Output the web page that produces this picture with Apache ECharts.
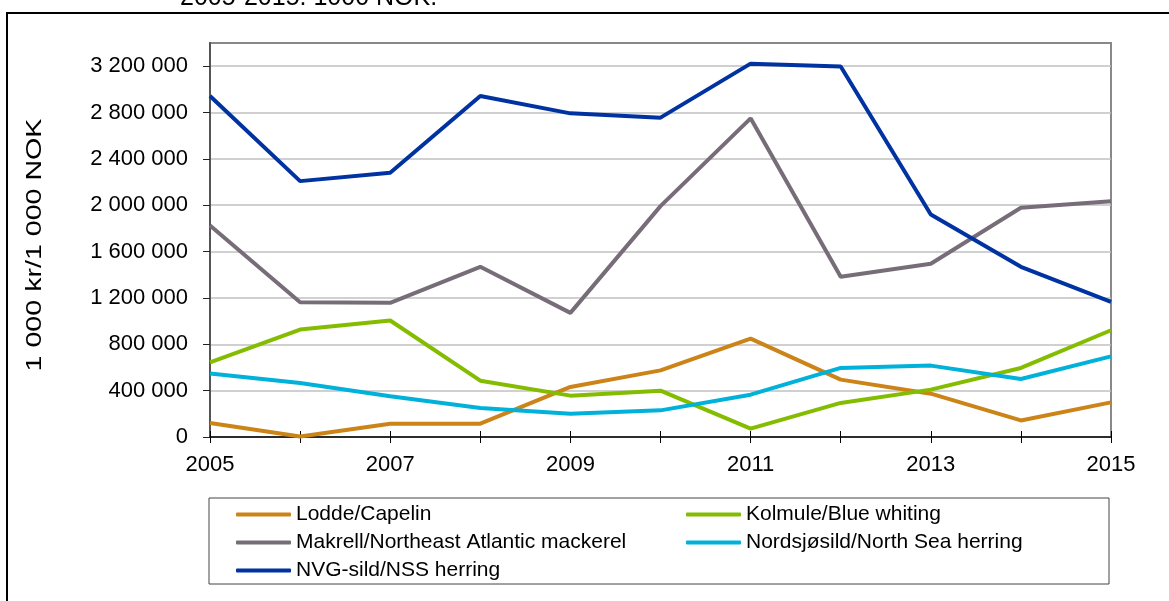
<!DOCTYPE html>
<html>
<head>
<meta charset="utf-8">
<script src="https://cdn.jsdelivr.net/npm/echarts@6/dist/echarts.min.js"></script>
<style>html,body{margin:0;padding:0;background:#fff}#c{width:1169px;height:601px}</style>
</head>
<body>
<div id="c"></div>
<script>
var years = ['2005','2006','2007','2008','2009','2010','2011','2012','2013','2014','2015'];
var lodde = [121000, 5000, 115000, 115000, 432000, 575000, 849000, 495000, 374000, 143000, 299000];
var kolmule = [645000, 927000, 1005000, 486000, 357000, 400000, 72000, 294000, 409000, 596000, 921000];
var makrell = [1825000, 1163000, 1158000, 1469000, 1071000, 1992000, 2750000, 1382000, 1495000, 1978000, 2035000];
var nordsjosild = [547000, 466000, 351000, 250000, 201000, 230000, 365000, 596000, 616000, 501000, 696000];
var nvg = [2943000, 2208000, 2281000, 2943000, 2793000, 2756000, 3222000, 3197000, 1920000, 1469000, 1166000];
var yTicks = [0, 400000, 800000, 1200000, 1600000, 2000000, 2400000, 2800000, 3200000];
var seriesNames = ['Lodde/Capelin', 'Kolmule/Blue whiting', 'Makrell/Northeast Atlantic mackerel', 'Nordsjøsild/North Sea herring', 'NVG-sild/NSS herring'];
var seriesColors = ['#CC8418', '#84BD00', '#776D78', '#00B1D9', '#0033A1'];
var seriesData = [lodde, kolmule, makrell, nordsjosild, nvg];
var yTitle = '1 000 kr/1 000 NOK';
var topText = '2005-2015. 1000 NOK.';

function fmt(v) {
  return String(v).replace(/\B(?=(\d{3})+(?!\d))/g, ' ');
}

var chart = echarts.init(document.getElementById('c'));
var font = 'Liberation Sans, Arial, sans-serif';
var series = seriesData.map(function (d, i) {
  return {
    name: seriesNames[i], type: 'line', data: d, symbol: 'none',
    lineStyle: { width: 4, color: seriesColors[i] }, itemStyle: { color: seriesColors[i] },
    z: 2 + i, silent: true
  };
});
var legendCommon = {
  orient: 'vertical', icon: 'roundRect', itemWidth: 55, itemHeight: 4, itemGap: 7, padding: 0,
  textStyle: { fontFamily: font, fontSize: 21, color: '#000', lineHeight: 21 },
  selectedMode: false
};
chart.setOption({
  animation: false,
  grid: { left: 210, right: 58, top: 43, bottom: 164, show: true, borderColor: '#888', borderWidth: 2 },
  xAxis: [{
    type: 'category', data: years, boundaryGap: false,
    axisLine: { lineStyle: { color: '#000', width: 1.5 } },
    axisTick: { interval: 0, length: 6, lineStyle: { color: '#000', width: 1 } },
    axisLabel: { interval: 1, margin: 17, fontFamily: font, fontSize: 22, color: '#000' },
    splitLine: { show: false }
  }, {
    type: 'category', data: years, boundaryGap: false, position: 'bottom',
    axisLine: { show: false },
    axisTick: { interval: 0, inside: true, length: 6, lineStyle: { color: '#000', width: 1 } },
    axisLabel: { show: false }, splitLine: { show: false }
  }],
  yAxis: {
    type: 'value', min: 0, max: 3400000, interval: 400000,
    axisLine: { show: true, lineStyle: { color: '#555', width: 2 } },
    axisTick: { show: true, length: 7, customValues: yTicks, lineStyle: { color: '#222', width: 1 } },
    axisLabel: { customValues: yTicks, margin: 22, fontFamily: font, fontSize: 22, color: '#000', formatter: fmt },
    splitLine: { lineStyle: { color: '#C0C0C0', width: 1.6 } }
  },
  legend: [
    Object.assign({ left: 236, top: 504, data: [seriesNames[0], seriesNames[2], seriesNames[4]] }, legendCommon),
    Object.assign({ left: 686, top: 504, data: [seriesNames[1], seriesNames[3]] }, legendCommon)
  ],
  graphic: [
    { type: 'rect', shape: { x: 7, y: 13, width: 1300, height: 800 }, style: { fill: null, stroke: '#000', lineWidth: 2 }, silent: true },
    { type: 'rect', shape: { x: 209, y: 498, width: 900, height: 86 }, style: { fill: null, stroke: '#444', lineWidth: 1 }, silent: true },
    { type: 'text', x: 35, y: 245, rotation: Math.PI / 2, scaleX: 1.3, scaleY: 1,
      style: { text: yTitle, fontFamily: font, fontSize: 22, fill: '#000', align: 'center', verticalAlign: 'middle' }, silent: true },
    { type: 'text', x: 180, y: -2, z: -1,
      style: { text: topText, fontFamily: font, fontSize: 25, fill: '#000', align: 'left', verticalAlign: 'middle' }, silent: true }
  ],
  series: series
});
</script>
</body>
</html>
